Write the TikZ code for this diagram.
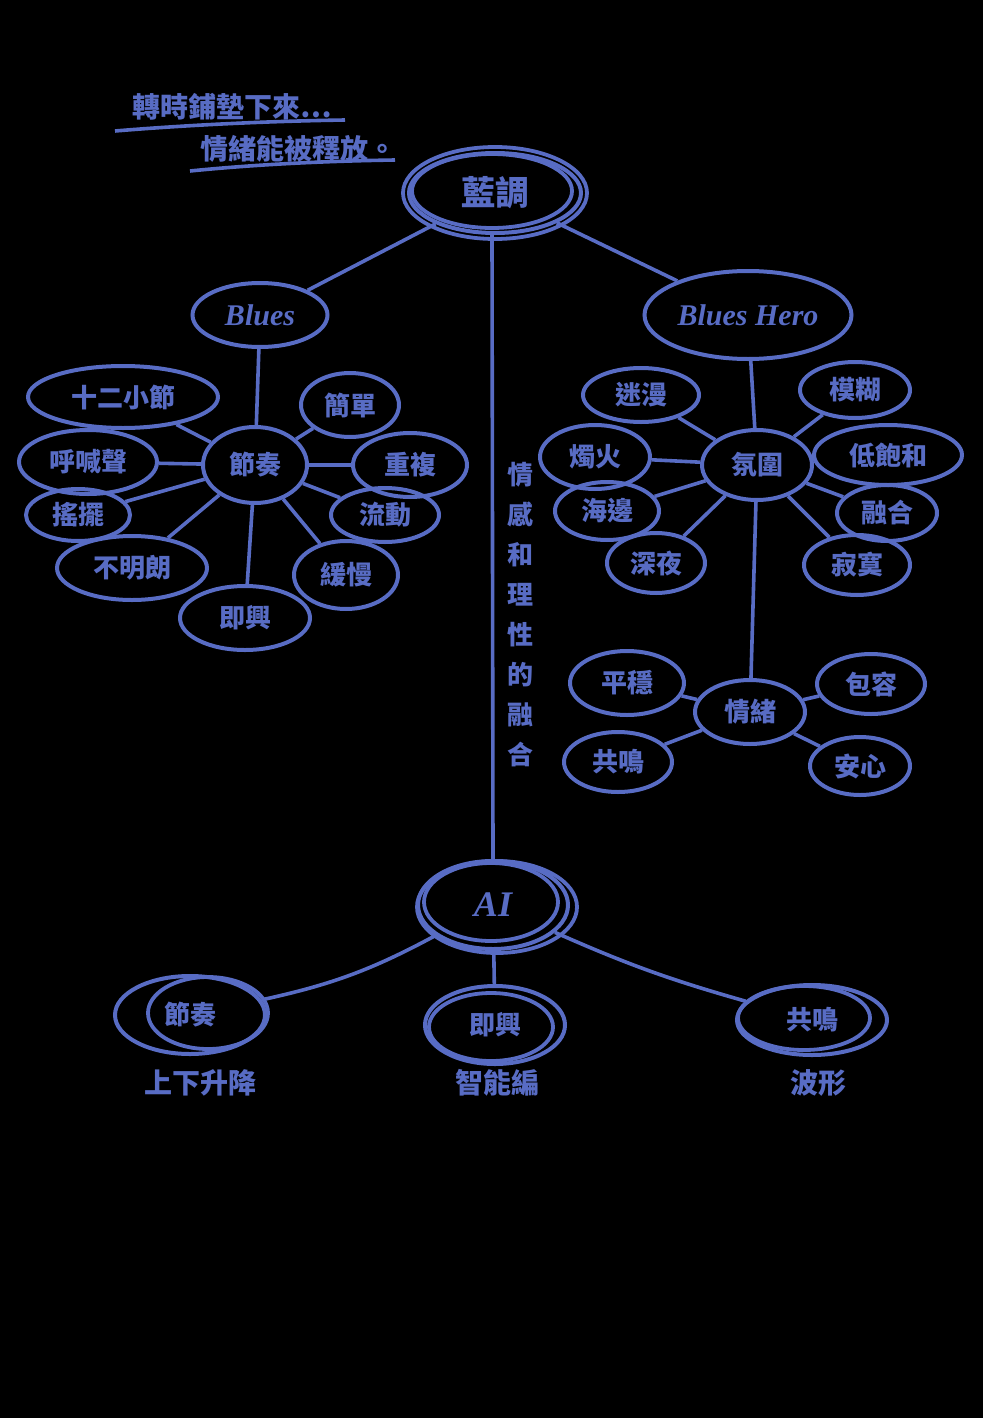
\documentclass[tikz,border=0pt]{standalone}
\usepackage{fontspec}
\newfontfamily\cjk{Noto Sans CJK TC}
\newfontfamily\hand{Liberation Serif}
\usetikzlibrary{shapes.geometric}
\definecolor{ink}{RGB}{88,108,196}
\begin{document}
\begin{tikzpicture}[x=1pt,y=-1pt,
  bub/.style={ellipse, draw=ink, line width=4pt, inner sep=0pt, text=ink,
    font=\cjk\bfseries\fontsize{26}{28}\selectfont},
  latin/.style={font=\hand\bfseries\itshape\fontsize{30}{32}\selectfont},
  link/.style={draw=ink, line width=3.6pt},
  ring/.style={draw=ink, line width=3.8pt},
  lbl/.style={text=ink, inner sep=0pt, font=\cjk\bfseries\fontsize{28}{30}\selectfont}]
\fill[black] (0,0) rectangle (983,1418);

% annotation
\node[lbl] (note1) at (232,107) {轉時鋪墊下來…};
\node[lbl] (note2) at (298,149) {情緒能被釋放。};
\coordinate (u1a) at (115,131); \coordinate (u1b) at (345,120);
\coordinate (u2a) at (190,171); \coordinate (u2b) at (395,160);
\draw[link] (u1a) .. controls (200,124) and (280,121) .. (u1b);
\draw[link] (u2a) .. controls (260,164) and (330,161) .. (u2b);

% root
\node[bub, minimum width=172pt, minimum height=80pt, font=\cjk\bfseries\fontsize{34}{36}\selectfont] (root) at (495,193) {藍調};
\draw[ring] (root.center) ellipse[x radius=92, y radius=46];
\draw[ring] ([xshift=-3pt,yshift=2pt]root.center) ellipse[x radius=80, y radius=37];

% level 1
\node[bub, latin, minimum width=135pt, minimum height=64pt] (blues) at (260,315) {Blues};
\node[bub, latin, minimum width=207pt, minimum height=88pt] (hero) at (748,315) {Blues Hero};
\node[bub, font=\hand\bfseries\itshape\fontsize{36}{38}\selectfont, minimum width=150pt, minimum height=88pt] (ai) at (493,905) {AI};
\draw[ring] ([xshift=4pt,yshift=-2pt]ai.center) ellipse[x radius=80, y radius=46];
\draw[ring] ([xshift=-2pt,yshift=3pt]ai.center) ellipse[x radius=67, y radius=39];

\draw[link] (root) -- (blues);
\draw[link] (root) -- (hero);
\path (root.south) ++(-3,0) coordinate (rs);
\draw[link] (rs) -- (ai.north);

% vertical text
\node[lbl, align=center, font=\cjk\bfseries\fontsize{26}{40}\selectfont] (vert) at (520,615) {情\\感\\和\\理\\性\\的\\融\\合};

% Blues cluster
\node[bub, minimum width=104pt, minimum height=76pt] (rhythm) at (255,465) {節奏};
\draw[link] (blues) -- (rhythm);
\node[bub, minimum width=190pt, minimum height=62pt] (l1) at (123,397) {十二小節};
\node[bub, minimum width=138pt, minimum height=64pt] (l2) at (88,462) {呼喊聲};
\node[bub, minimum width=104pt, minimum height=52pt] (l3) at (78,515) {搖擺};
\node[bub, minimum width=150pt, minimum height=64pt] (l4) at (132,568) {不明朗};
\node[bub, minimum width=98pt, minimum height=64pt] (r1) at (350,405) {簡單};
\node[bub, minimum width=114pt, minimum height=64pt] (r2) at (410,465) {重複};
\node[bub, minimum width=108pt, minimum height=54pt] (r3) at (385,515) {流動};
\node[bub, minimum width=104pt, minimum height=68pt] (r4) at (346,575) {緩慢};
\node[bub, minimum width=130pt, minimum height=64pt] (r5) at (245,618) {即興};
\foreach \n in {l1,l2,l3,l4,r1,r2,r3,r4,r5} \draw[link] (rhythm) -- (\n);

% Blues Hero cluster
\node[bub, minimum width=110pt, minimum height=70pt] (mood) at (757,465) {氛圍};
\draw[link] (hero) -- (mood);
\node[bub, minimum width=116pt, minimum height=54pt] (m1) at (641,395) {迷漫};
\node[bub, minimum width=110pt, minimum height=64pt] (m2) at (595,457) {燭火};
\node[bub, minimum width=104pt, minimum height=58pt] (m3) at (607,511) {海邊};
\node[bub, minimum width=98pt, minimum height=60pt] (m4) at (656,563) {深夜};
\node[bub, minimum width=110pt, minimum height=56pt] (n1) at (855,390) {模糊};
\node[bub, minimum width=148pt, minimum height=60pt] (n2) at (888,455) {低飽和};
\node[bub, minimum width=100pt, minimum height=56pt] (n3) at (887,513) {融合};
\node[bub, minimum width=106pt, minimum height=60pt] (n4) at (857,565) {寂寞};
\foreach \n in {m1,m2,m3,m4,n1,n2,n3,n4} \draw[link] (mood) -- (\n);

% emotion cluster
\node[bub, minimum width=110pt, minimum height=64pt] (emo) at (750,712) {情緒};
\draw[link] (mood) -- (emo);
\node[bub, minimum width=114pt, minimum height=64pt] (e1) at (627,683) {平穩};
\node[bub, minimum width=108pt, minimum height=60pt] (e2) at (618,762) {共鳴};
\node[bub, minimum width=108pt, minimum height=60pt] (e3) at (871,684) {包容};
\node[bub, minimum width=100pt, minimum height=58pt] (e4) at (860,766) {安心};
\foreach \n in {e1,e2,e3,e4} \draw[link] (emo) -- (\n);

% AI cluster
\node[bub, minimum width=150pt, minimum height=78pt] (a1) at (190,1015) {節奏};
\draw[ring] ([xshift=18pt,yshift=2pt]a1.center) ellipse[x radius=60, y radius=36];
\node[bub, minimum width=140pt, minimum height=78pt] (a2) at (495,1025) {即興};
\draw[ring] ([xshift=-4pt,yshift=-2pt]a2.center) ellipse[x radius=62, y radius=34];
\node[bub, minimum width=150pt, minimum height=70pt] (a3) at (812,1020) {共鳴};
\draw[ring] ([xshift=-8pt,yshift=2pt]a3.center) ellipse[x radius=66, y radius=32];
\draw[link] (ai) to[bend left=8] (a1);
\draw[link] (ai) -- (a2);
\draw[link] (ai) to[bend right=4] (a3);
\node[lbl] (b1) at (200,1083) {上下升降};
\node[lbl] (b2) at (497,1083) {智能編};
\node[lbl] (b3) at (818,1083) {波形};
\end{tikzpicture}
\end{document}
